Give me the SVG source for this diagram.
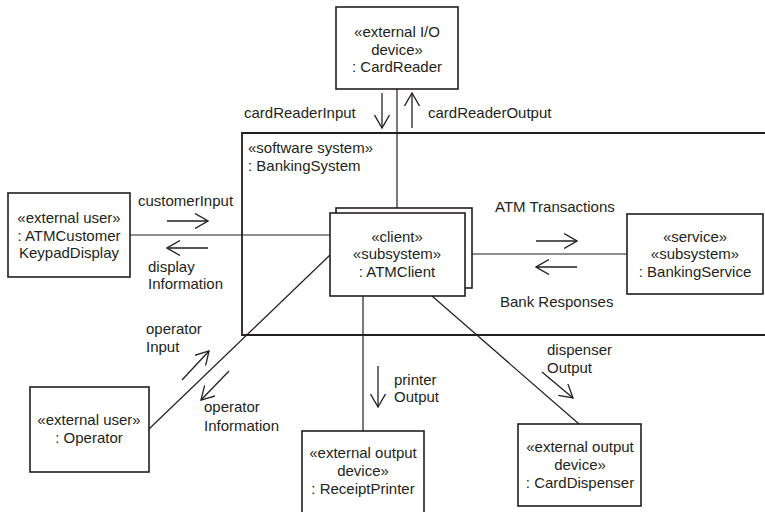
<svg xmlns="http://www.w3.org/2000/svg" width="765" height="512" viewBox="0 0 765 512">
<style>
  text { font-family: "Liberation Sans", Arial, sans-serif; font-size: 15px; fill: #231f20; }
  .c { text-anchor: middle; }
  .box { fill: #ffffff; stroke: #231f20; stroke-width: 1.6; }
  .conn { stroke: #231f20; stroke-width: 1.2; fill: none; }
  .bound { stroke: #231f20; stroke-width: 1.8; fill: none; }
  .arr { stroke: #231f20; stroke-width: 1.3; fill: none; marker-end: url(#head); }
</style>
<defs>
  <marker id="head" viewBox="0 0 14 16" refX="13" refY="8" markerWidth="14" markerHeight="16" markerUnits="userSpaceOnUse" orient="auto">
    <path d="M0,0.5 L13,8 L0,15.5" fill="none" stroke="#231f20" stroke-width="1.3"/>
  </marker>
</defs>
<rect width="765" height="512" fill="#ffffff"/>

<g id="BankingSystem">
  <path class="bound" d="M766,133 H242 V335 H766"/>
  <text x="248" y="153">«software system»</text>
  <text x="248" y="171">: BankingSystem</text>
</g>

<g id="connectors">
  <line class="conn" x1="397" y1="89" x2="397" y2="208"/>
  <line class="conn" x1="130" y1="235" x2="330" y2="235"/>
  <line class="conn" x1="465" y1="254" x2="627" y2="254"/>
  <line class="conn" x1="330" y1="255" x2="149" y2="429"/>
  <line class="conn" x1="363" y1="296" x2="363" y2="431"/>
  <line class="conn" x1="432" y1="296" x2="579" y2="424"/>
  <line class="arr" x1="382" y1="93" x2="382" y2="128"/>
  <line class="arr" x1="412" y1="128" x2="412" y2="93"/>
  <line class="arr" x1="167" y1="221" x2="208" y2="221"/>
  <line class="arr" x1="208" y1="248" x2="167" y2="248"/>
  <line class="arr" x1="536" y1="241" x2="577" y2="241"/>
  <line class="arr" x1="577" y1="267" x2="536" y2="267"/>
  <line class="arr" x1="182" y1="380" x2="209" y2="351"/>
  <line class="arr" x1="229" y1="371" x2="201" y2="400"/>
  <line class="arr" x1="378" y1="366" x2="378" y2="407"/>
  <line class="arr" x1="542" y1="372" x2="573" y2="398"/>
  <text x="244" y="118">cardReaderInput</text>
  <text x="428" y="118">cardReaderOutput</text>
  <text x="138" y="206">customerInput</text>
  <text x="148" y="272">display</text>
  <text x="148" y="289">Information</text>
  <text x="495" y="212">ATM Transactions</text>
  <text x="500" y="307">Bank Responses</text>
  <text x="146" y="334">operator</text>
  <text x="146" y="352">Input</text>
  <text x="204" y="412">operator</text>
  <text x="204" y="431">Information</text>
  <text x="394" y="385">printer</text>
  <text x="394" y="402">Output</text>
  <text x="547" y="355">dispenser</text>
  <text x="547" y="373">Output</text>
</g>

<g id="CardReader">
  <rect class="box" x="336" y="7" width="122" height="82"/>
  <text class="c" x="397" y="37">«external I/O</text>
  <text class="c" x="397" y="55">device»</text>
  <text class="c" x="397" y="72">: CardReader</text>
</g>

<g id="ATMCustomerKeypadDisplay">
  <rect class="box" x="8" y="193" width="122" height="84"/>
  <text class="c" x="69" y="223">«external user»</text>
  <text class="c" x="69" y="241">: ATMCustomer</text>
  <text class="c" x="69" y="258">KeypadDisplay</text>
</g>

<g id="ATMClient">
  <rect class="box" x="336" y="208" width="136" height="80"/>
  <rect class="box" x="330" y="213" width="135" height="83"/>
  <text class="c" x="397" y="242">«client»</text>
  <text class="c" x="397" y="259">«subsystem»</text>
  <text class="c" x="397" y="277">: ATMClient</text>
</g>

<g id="BankingService">
  <rect class="box" x="627" y="214" width="136" height="80"/>
  <text class="c" x="695" y="242">«service»</text>
  <text class="c" x="695" y="259">«subsystem»</text>
  <text class="c" x="695" y="277">: BankingService</text>
</g>

<g id="Operator">
  <rect class="box" x="30" y="387" width="119" height="85"/>
  <text class="c" x="89" y="425">«external user»</text>
  <text class="c" x="89" y="443">: Operator</text>
</g>

<g id="ReceiptPrinter">
  <rect class="box" x="302" y="431" width="122" height="90"/>
  <text class="c" x="363" y="458">«external output</text>
  <text class="c" x="363" y="476">device»</text>
  <text class="c" x="363" y="494">: ReceiptPrinter</text>
</g>

<g id="CardDispenser">
  <rect class="box" x="518" y="424" width="123" height="82"/>
  <text class="c" x="580" y="452">«external output</text>
  <text class="c" x="580" y="470">device»</text>
  <text class="c" x="580" y="488">: CardDispenser</text>
</g>
</svg>
